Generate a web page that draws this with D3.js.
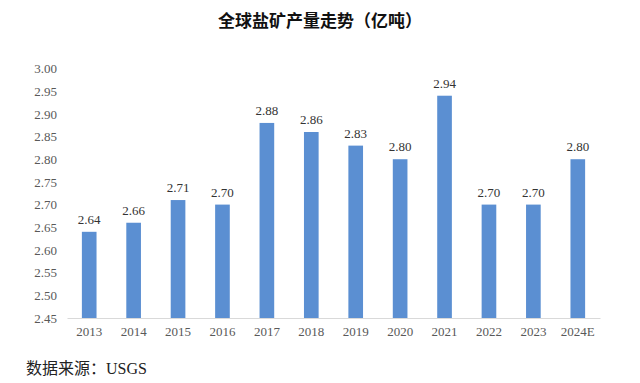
<!DOCTYPE html>
<html><head><meta charset="utf-8">
<script src="https://cdn.jsdelivr.net/npm/d3@7"></script>
<style>body{margin:0;background:#fff}</style>
</head><body>
<script>
const categories = ["2013","2014","2015","2016","2017","2018","2019","2020","2021","2022","2023","2024E"];
const values = [2.64,2.66,2.71,2.70,2.88,2.86,2.83,2.80,2.94,2.70,2.70,2.80];
const yTicks = [2.45,2.50,2.55,2.60,2.65,2.70,2.75,2.80,2.85,2.90,2.95,3.00];
const title = "全球盐矿产量走势（亿吨）";
const source = "数据来源：USGS";

const W=640,H=383;
const svg=d3.select("body").append("svg").attr("width",W).attr("height",H);
const x=d3.scaleBand().domain(categories).range([67,600]).paddingInner(0.67).paddingOuter(0.335);
const y=d3.scaleLinear().domain([2.45,3.00]).range([318,68.5]);

svg.append("text").attr("x",320).attr("y",27).attr("text-anchor","middle")
 .attr("font-family","'Noto Sans CJK SC'").attr("font-weight","bold").attr("font-size",17)
 .attr("fill","#111").text(title);

const yAxis=svg.append("g").attr("transform","translate(67,0)")
 .call(d3.axisLeft(y).tickValues(yTicks).tickFormat(d3.format(".2f")).tickSize(0).tickPadding(10));
yAxis.select(".domain").remove();
yAxis.selectAll("text").attr("font-family","'Liberation Serif'").attr("font-size",13).attr("fill","#595959");

const xAxis=svg.append("g").attr("transform","translate(0,318)")
 .call(d3.axisBottom(x).tickSize(0).tickPadding(9));
xAxis.select(".domain").attr("stroke","#d9d9d9");
xAxis.selectAll("text").attr("font-family","'Liberation Serif'").attr("font-size",13).attr("fill","#595959");

svg.selectAll("rect.bar").data(values).enter().append("rect").attr("class","bar")
 .attr("x",(d,i)=>x(categories[i])).attr("width",x.bandwidth())
 .attr("y",d=>y(d)).attr("height",d=>y(2.45)-y(d)).attr("fill","#5b8fd2");

svg.selectAll("text.val").data(values).enter().append("text").attr("class","val")
 .attr("x",(d,i)=>x(categories[i])+x.bandwidth()/2).attr("y",d=>y(d)-8)
 .attr("text-anchor","middle").attr("font-family","'Liberation Serif'").attr("font-size",13)
 .attr("fill","#333").text(d=>d.toFixed(2));

svg.append("text").attr("x",26).attr("y",374)
 .attr("font-family","'Liberation Serif','Noto Sans CJK SC'").attr("font-size",16).attr("fill","#222")
 .text(source);
</script>
</body></html>
